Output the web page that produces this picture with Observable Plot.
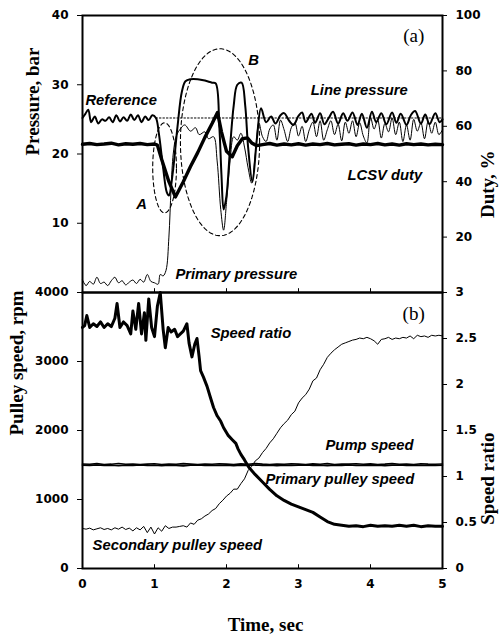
<!DOCTYPE html>
<html><head><meta charset="utf-8">
<script src="https://cdn.jsdelivr.net/npm/d3@7"></script>
<script src="https://cdn.jsdelivr.net/npm/@observablehq/plot@0.6"></script>
<style>
body{margin:0;background:#fff;}
#fig{position:relative;width:499px;height:634px;overflow:hidden;background:#fff;}
#fig svg{display:block;overflow:visible;}
</style>
</head><body><div id="fig"></div>
<script>
// ---------- tick values ----------
const timeTicks = [0,1,2,3,4,5];
const pressureTicks = [10,20,30,40];
const dutyTicks = [20,40,60,80,100];
const rpmTicks = [0,1000,2000,3000,4000];
const ratioTicks = [0,0.5,1,1.5,2,2.5,3];

// ---------- panel (a) data ----------
const linePressureTime = [0,0.04,0.08,0.12,0.17,0.22,0.27,0.32,0.37,0.42,0.47,0.52,0.57,0.62,0.67,0.72,0.77,0.82,0.87,0.92,0.97,1.02,1.06,1.12,1.17,1.2,1.25,1.32,1.38,1.43,1.5,1.6,1.7,1.8,1.85,1.9,1.93,1.96,2.0,2.05,2.1,2.15,2.21,2.26,2.3,2.36,2.42,2.48,2.55,2.62,2.68,2.75,2.8,2.87,2.93,3.0,3.05,3.1,3.18,3.23,3.3,3.36,3.42,3.48,3.55,3.62,3.68,3.75,3.82,3.88,3.95,4.02,4.08,4.15,4.22,4.3,4.36,4.42,4.5,4.56,4.62,4.7,4.76,4.82,4.9,4.96,5.0];
const linePressureBar = [25.2,25.8,26.4,24.6,25.4,24.4,25.0,24.8,25.3,24.6,25.6,24.7,25.3,24.8,25.7,24.9,25.6,24.6,25.4,24.9,25.6,25.2,23,18,14.5,14,17,24,29,30.5,30.8,30.8,30.6,30.3,30.2,24,17,12,14,21,27,30,30.3,27,21,16,22,26.6,24.6,25.4,24.4,25.6,25.9,24.8,24.2,25.5,26.0,24.6,25.8,24.5,25.9,24.3,25.2,26.1,24.4,25.9,24.8,26.0,24.2,25.8,23.8,26.1,24.6,25.9,24.3,26.0,24.5,25.8,24.2,25.6,26.2,24.4,25.7,24.3,25.9,24.6,25.0];

const primaryPressureTime = [0,0.05,0.1,0.15,0.2,0.25,0.3,0.35,0.4,0.45,0.5,0.55,0.6,0.65,0.7,0.75,0.8,0.85,0.9,0.95,1.0,1.05,1.08,1.12,1.16,1.2,1.23,1.26,1.3,1.35,1.42,1.5,1.57,1.62,1.7,1.75,1.82,1.87,1.92,1.96,2.0,2.05,2.1,2.15,2.2,2.25,2.3,2.35,2.4,2.45,2.5,2.55,2.6,2.65,2.7,2.75,2.8,2.85,2.9,2.95,3.0,3.05,3.1,3.15,3.2,3.25,3.3,3.35,3.4,3.45,3.5,3.55,3.6,3.65,3.7,3.75,3.8,3.85,3.9,3.95,4.0,4.05,4.1,4.15,4.2,4.25,4.3,4.35,4.4,4.45,4.5,4.55,4.6,4.65,4.7,4.75,4.8,4.85,4.9,4.95,5.0];
const primaryPressureBar = [1.8,1.0,1.6,1.2,2.2,1.3,1.5,1.0,1.7,2.2,1.4,1.7,1.1,1.5,1.8,1.3,1.9,1.5,2.6,1.6,1.4,1.2,2.6,2.4,3.2,8,15,20,22.5,23.5,24.2,23.3,23.8,22.8,23.2,22.2,22.5,19,12,9,13,19,22.5,22,23,21,18,15.8,20,24.5,22.5,21.8,23.6,24.2,22,24.9,23.5,21.8,23.8,24.5,22.6,24.0,21.8,23.5,24.6,22.5,24.8,22.0,23.5,24.8,22.8,24.3,21.9,24.6,23.0,24.8,22.5,24.5,22.6,21.6,25.3,23.6,24.9,22.3,24.4,23.2,25.2,22.8,24.6,21.8,24.2,22.0,25.0,23.3,24.5,22.2,24.7,23.0,24.6,22.8,23.5];

const lcsvTime = [0,0.1,0.2,0.3,0.4,0.5,0.6,0.7,0.8,0.9,1.0,1.04,1.1,1.2,1.29,1.4,1.5,1.6,1.7,1.8,1.875,1.93,2.0,2.08,2.15,2.22,2.29,2.35,2.42,2.5,2.6,2.7,2.8,2.9,3.0,3.1,3.2,3.3,3.4,3.5,3.6,3.7,3.8,3.9,4.0,4.1,4.2,4.3,4.4,4.5,4.6,4.7,4.8,4.9,5.0];
const lcsvDutyPct = [53.5,53.8,53.4,53.6,53.9,53.3,53.7,53.5,53.8,53.4,53.6,53.2,48,40,34.5,40,45.5,50.5,56,61,65,58,51,49,53,55.5,55.8,54,53,53.4,53.8,53.2,53.6,53.3,53.7,53.2,53.6,53.4,53.8,53.3,53.5,53.7,53.2,53.6,53.4,53.8,53.3,53.6,53.2,53.7,53.4,53.6,53.3,53.5,53.4];

const referenceTime = [1.02, 5.0];
const referenceBar = [25.2, 25.2];

// dashed ellipses (data units: sec, bar)
const ellipseNames = ["A","B"];
const ellipseCenterTime = [1.14, 1.91];
const ellipseCenterBar = [18.0, 21.7];
const ellipseRadiusTime = [0.165, 0.55];
const ellipseRadiusBar = [6.5, 13.5];

// ---------- panel (b) data ----------
const speedRatioTime = [0,0.03,0.06,0.1,0.15,0.2,0.25,0.3,0.35,0.4,0.45,0.48,0.52,0.57,0.62,0.67,0.7,0.74,0.78,0.82,0.86,0.88,0.92,0.96,1.0,1.04,1.08,1.12,1.15,1.19,1.23,1.28,1.32,1.36,1.4,1.45,1.48,1.52,1.56,1.59,1.62,1.64,1.68,1.73,1.78,1.82,1.87,1.92,1.96,2.02,2.08,2.13,2.16,2.2,2.25,2.31,2.4,2.5,2.6,2.7,2.8,2.9,3.0,3.1,3.2,3.3,3.4,3.5,3.6,3.7,3.8,3.9,4.0,4.1,4.2,4.3,4.4,4.5,4.6,4.7,4.8,4.9,5.0];
const speedRatio = [2.62,2.64,2.75,2.62,2.66,2.63,2.68,2.62,2.66,2.63,2.72,2.88,2.62,2.68,2.64,2.55,2.8,2.6,2.88,2.55,2.78,2.48,2.93,2.62,2.52,2.85,3.0,2.6,2.4,2.62,2.57,2.6,2.52,2.55,2.58,2.66,2.45,2.3,2.44,2.5,2.3,2.15,2.08,1.98,1.85,1.75,1.66,1.6,1.53,1.45,1.4,1.36,1.3,1.24,1.18,1.1,1.02,0.94,0.86,0.79,0.74,0.7,0.67,0.64,0.61,0.56,0.51,0.48,0.47,0.46,0.465,0.455,0.47,0.46,0.465,0.46,0.47,0.46,0.47,0.455,0.465,0.46,0.46];

const speedTime = [0,0.1,0.2,0.3,0.4,0.5,0.6,0.7,0.8,0.9,1.0,1.1,1.2,1.3,1.4,1.5,1.6,1.7,1.8,1.9,2.0,2.1,2.2,2.3,2.4,2.5,2.6,2.7,2.8,2.9,3.0,3.1,3.2,3.3,3.4,3.5,3.6,3.7,3.8,3.9,4.0,4.1,4.2,4.3,4.4,4.5,4.6,4.7,4.8,4.9,5.0];
const pumpRpm = [1515,1510,1520,1508,1512,1522,1510,1515,1505,1512,1518,1508,1515,1510,1520,1512,1506,1514,1510,1518,1512,1508,1516,1510,1520,1512,1508,1515,1510,1518,1512,1506,1516,1510,1520,1508,1514,1512,1518,1510,1516,1508,1512,1520,1510,1515,1508,1518,1512,1510,1515];
const primaryRpm = [1498,1494,1500,1492,1496,1490,1498,1494,1500,1492,1496,1490,1498,1494,1488,1496,1500,1492,1496,1494,1498,1490,1496,1494,1500,1492,1496,1490,1498,1494,1496,1500,1492,1496,1490,1498,1494,1500,1492,1496,1494,1498,1490,1496,1500,1492,1498,1494,1496,1492,1496];

const secondaryTime = [0,0.05,0.1,0.15,0.2,0.25,0.3,0.35,0.4,0.45,0.5,0.55,0.6,0.65,0.7,0.75,0.8,0.85,0.9,0.95,1,1.05,1.1,1.15,1.2,1.25,1.3,1.35,1.4,1.45,1.5,1.55,1.6,1.65,1.7,1.75,1.8,1.85,1.9,1.95,2,2.05,2.1,2.15,2.2,2.25,2.3,2.35,2.4,2.45,2.5,2.55,2.6,2.65,2.7,2.75,2.8,2.85,2.9,2.95,3,3.05,3.1,3.15,3.2,3.25,3.3,3.35,3.4,3.45,3.5,3.55,3.6,3.65,3.7,3.75,3.8,3.85,3.9,3.95,4,4.05,4.1,4.15,4.2,4.25,4.3,4.35,4.4,4.45,4.5,4.55,4.6,4.65,4.7,4.75,4.8,4.85,4.9,4.95,5];
const secondaryRpm = [580,570,585,560,575,590,565,580,560,590,570,600,565,585,545,590,560,610,520,600,500,590,540,620,580,600,600,610,620,600,660,640,700,720,760,790,840,870,940,990,1050,1090,1150,1150,1230,1300,1420,1480,1560,1600,1680,1740,1820,1880,1960,2040,2100,2150,2230,2280,2400,2470,2520,2600,2720,2760,2880,2960,3060,3120,3170,3210,3250,3270,3290,3310,3320,3340,3330,3350,3330,3300,3250,3320,3330,3350,3320,3340,3330,3350,3340,3370,3330,3380,3360,3370,3350,3380,3370,3380,3370];

// ---------- labels ----------
const notesA = ["Reference","Line pressure","LCSV duty","Primary pressure"];
const notesATime = [0.04, 3.17, 3.68, 1.29];
const notesABar = [27.7, 29.2, 16.9, 2.7];
const lettersA = ["A","B"];
const lettersATime = [0.82, 2.375];
const lettersABar = [12.7, 33.5];
const notesB = ["Speed ratio","Pump speed","Primary pulley speed","Secondary pulley speed"];
const notesBTime = [1.78, 3.375, 2.54, 0.14];
const notesBRpm = [3405, 1782, 1290, 333];
const panelTags = ["(a)","(b)"];
const panelTagTime = [4.6, 4.6];
const panelTagValue = [37.0, 3695];

// axis conversions (secondary axes share the primary axis scale)
const DUTY_PER_BAR = 100 / 40;
const RATIO_PER_RPM = 3 / 4000;

// ---------- helpers ----------
const zip = (xs, ys) => xs.map((x, i) => ({x, y: ys[i]})).filter(d => d.y != null);
const tickFont = {fontFamily: "'DejaVu Sans', sans-serif", fontWeight: "bold", fontSize: 12};
const titleFont = {fontFamily: "'Liberation Serif', 'Times New Roman', serif", fontWeight: "bold", fontSize: 19};
const noteFont = {fontFamily: "'Liberation Sans', Arial, sans-serif", fontWeight: "bold", fontStyle: "italic", fontSize: 14.8};

const angles = d3.range(0, 361, 4).map(a => a * Math.PI / 180);
const ellipsePts = ellipseNames.flatMap((n, i) => angles.map(a => ({
  n, x: ellipseCenterTime[i] + ellipseRadiusTime[i] * Math.cos(a),
  y: ellipseCenterBar[i] + ellipseRadiusBar[i] * Math.sin(a)
})));

const plotA = Plot.plot({
  width: 499, height: 292,
  marginLeft: 82, marginRight: 57, marginTop: 15, marginBottom: 0,
  style: {overflow: "visible", background: "transparent"},
  x: {domain: [0, 5], axis: null},
  y: {domain: [0, 40]},
  marks: [
    Plot.axisY({ticks: pressureTicks, tickFormat: d => String(d), tickSize: 5, tickPadding: 9, label: null, ...tickFont}),
    Plot.axisY({anchor: "right", ticks: dutyTicks.map(d => d / DUTY_PER_BAR),
      tickFormat: d => String(Math.round(d * DUTY_PER_BAR)), tickSize: 4, tickPadding: 9, label: null, ...tickFont}),
    Plot.ruleX(timeTicks.slice(1, -1), {y1: 0, y2: 0.55, strokeWidth: 1}),
    Plot.line(ellipsePts, {x: "x", y: "y", z: "n", stroke: "black", strokeWidth: 1.1, strokeDasharray: "4,3"}),
    Plot.line(zip(referenceTime, referenceBar), {x: "x", y: "y", stroke: "black", strokeWidth: 1, strokeDasharray: "1.5,2"}),
    Plot.line(zip(primaryPressureTime, primaryPressureBar), {x: "x", y: "y", stroke: "black", strokeWidth: 1, curve: "catmull-rom"}),
    Plot.line(zip(linePressureTime, linePressureBar), {x: "x", y: "y", stroke: "black", strokeWidth: 2, curve: "catmull-rom"}),
    Plot.line(zip(lcsvTime, lcsvDutyPct.map(d => d / DUTY_PER_BAR)), {x: "x", y: "y", stroke: "black", strokeWidth: 3.4}),
    Plot.frame({strokeWidth: 2}),
    Plot.text(notesA, {x: (d, i) => notesATime[i], y: (d, i) => notesABar[i], text: d => d, textAnchor: "start", ...noteFont}),
    Plot.text(lettersA, {x: (d, i) => lettersATime[i], y: (d, i) => lettersABar[i], text: d => d, ...noteFont}),
    Plot.text([panelTags[0]], {x: panelTagTime[0], y: panelTagValue[0], text: d => d,
      fontFamily: "'Liberation Serif', serif", fontSize: 19}),
    Plot.text(["Pressure, bar"], {frameAnchor: "left", rotate: -90, dx: -50, dy: 1.5, text: d => d, ...titleFont}),
    Plot.text(["Duty, %"], {frameAnchor: "right", rotate: -90, dx: 45, dy: -3.5, text: d => d, ...titleFont})
  ]
});

const plotB = Plot.plot({
  width: 499, height: 342,
  marginLeft: 82, marginRight: 57, marginTop: 0, marginBottom: 66,
  style: {overflow: "visible", background: "transparent"},
  x: {domain: [0, 5]},
  y: {domain: [0, 4000]},
  marks: [
    Plot.axisX({ticks: timeTicks, tickFormat: d => String(d), tickSize: 0, tickPadding: 11, label: null, ...tickFont}),
    Plot.axisY({ticks: rpmTicks, tickFormat: d => String(d), tickSize: 5, tickPadding: 9, label: null, ...tickFont}),
    Plot.axisY({anchor: "right", ticks: ratioTicks.map(r => r / RATIO_PER_RPM),
      tickFormat: d => String(Math.round(d * RATIO_PER_RPM * 10) / 10), tickSize: 4, tickPadding: 9, label: null, ...tickFont}),
    Plot.ruleX(timeTicks.slice(1, -1), {y1: 0, y2: 55, strokeWidth: 1}),
    Plot.line(zip(secondaryTime, secondaryRpm), {x: "x", y: "y", stroke: "black", strokeWidth: 1}),
    Plot.line(zip(speedTime, pumpRpm), {x: "x", y: "y", stroke: "black", strokeWidth: 1.6}),
    Plot.line(zip(speedTime, primaryRpm), {x: "x", y: "y", stroke: "black", strokeWidth: 1.6}),
    Plot.line(zip(speedRatioTime, speedRatio.map(r => r / RATIO_PER_RPM)), {x: "x", y: "y", stroke: "black", strokeWidth: 3}),
    Plot.frame({strokeWidth: 2}),
    Plot.text(notesB, {x: (d, i) => notesBTime[i], y: (d, i) => notesBRpm[i], text: d => d, textAnchor: "start", ...noteFont}),
    Plot.text([panelTags[1]], {x: panelTagTime[1], y: panelTagValue[1], text: d => d,
      fontFamily: "'Liberation Serif', serif", fontSize: 19}),
    Plot.text(["Pulley speed, rpm"], {frameAnchor: "left", rotate: -90, dx: -66, dy: 5, text: d => d, ...titleFont}),
    Plot.text(["Speed ratio"], {frameAnchor: "right", rotate: -90, dx: 45, dy: 2, text: d => d, ...titleFont}),
    Plot.text(["Time, sec"], {frameAnchor: "bottom", dx: 3, dy: 62, text: d => d, ...titleFont})
  ]
});

const fig = document.getElementById("fig");
fig.appendChild(plotA);
fig.appendChild(plotB);
</script>
</body></html>
